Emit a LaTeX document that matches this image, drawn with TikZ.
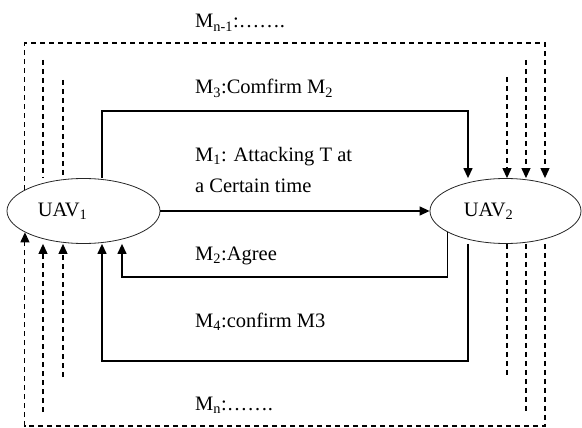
\documentclass[tikz,border=0pt]{standalone}
\usepackage{fontspec}
\setmainfont{Liberation Serif}
\usetikzlibrary{arrows.meta, shapes.geometric}

\begin{document}
\begin{tikzpicture}[x=1pt, y=-1pt,
  uav/.style={draw=black!85, ellipse, line width=0.8pt, minimum width=153pt, minimum height=65pt, inner sep=0pt},
  tip/.style={-{Triangle[length=10pt,width=9pt]}},
  msg/.style={line width=1.3pt},
  loop/.style={line width=1.1pt, dash pattern=on 5pt off 4pt},
  lbl/.style={anchor=base west, inner sep=0pt, align=left, font=\fontsize{20.5}{32}\selectfont}]
\useasboundingbox (0,0) rectangle (582,428);

% the two UAVs
\node[uav, label={[lbl, anchor=center, xshift=-21pt]center:UAV\textsubscript{1}}] (u1) at (83.5,211) {};
\node[uav, minimum width=151pt, label={[lbl, anchor=center, xshift=-17pt]center:UAV\textsubscript{2}}] (u2) at (505.5,211) {};

% messages between them
\draw[msg, tip] (u1.north -| 102,0) |- (468,111) -- (u2.north -| 468,0);
\draw[msg, tip] (u1) -- (u2);
\draw[msg, tip] (u2.200) |- (122,277) -- (u1.south -| 122,0);
\draw[msg, tip] (u2.south -| 468,0) |- (102,361) -- (u1.south -| 102,0);

% further messages (dashed)
\draw[loop, tip] (u1.160) |- (545,43) -- (u2.north -| 545,0);
\draw[loop, tip] (u2.south -| 545,0) |- (u1.200 |- 0,426) -- (u1.200);
\draw[loop] (43,60) -- (u1.north -| 43,0);
\draw[loop] (63,80) -- (u1.north -| 63,0);
\draw[loop, tip] (43,412) -- (u1.south -| 43,0);
\draw[loop, tip] (63,377) -- (u1.south -| 63,0);
\draw[loop, tip] (526,60) -- (u2.north -| 526,0);
\draw[loop, tip] (507,77) -- (u2.north -| 507,0);
\draw[loop] (u2.south -| 526,0) -- (526,412);
\draw[loop] (u2.south -| 507,0) -- (507,377);

% labels
\node[lbl] (mn1) at (195,28) {M\textsubscript{n-1}:\ldots\ldots.};
\node[lbl] (m3) at (195,94) {M\textsubscript{3}:Comfirm M\textsubscript{2}};
\node[lbl] (m1) at (195,193) {M\textsubscript{1}: Attacking T at\\a Certain time};
\node[lbl] (m2) at (195,260) {M\textsubscript{2}:Agree};
\node[lbl] (m4) at (195,327) {M\textsubscript{4}:confirm M3};
\node[lbl] (mn) at (195,410) {M\textsubscript{n}:\ldots\ldots.};
\end{tikzpicture}
\end{document}
